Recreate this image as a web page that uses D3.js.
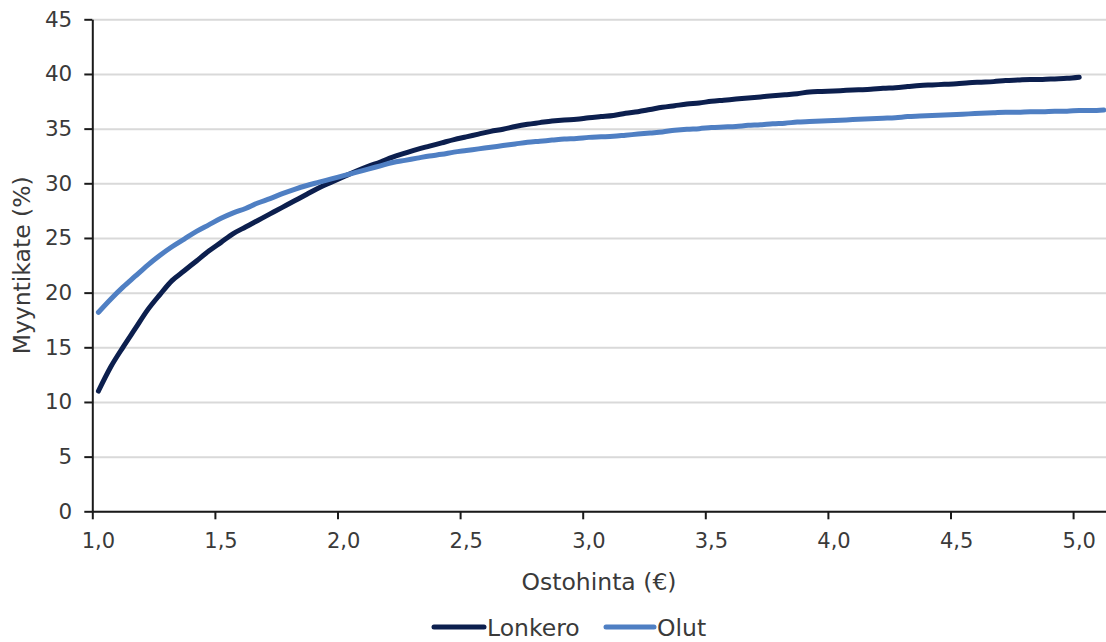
<!DOCTYPE html>
<html>
<head>
<meta charset="utf-8">
<script src="https://cdn.jsdelivr.net/npm/d3@7"></script>
<style>
  html, body { margin: 0; padding: 0; background: #ffffff; }
  svg { display: block; }
  text { font-family: "Century Gothic", "DejaVu Sans", sans-serif; fill: #3a3a3a; }
</style>
</head>
<body>
<svg id="chart" width="1106" height="642"></svg>
<script>
// ---- Data ----
const categories = [
  1.00, 1.05, 1.10, 1.15, 1.20, 1.25, 1.30, 1.35, 1.40, 1.45,
  1.50, 1.55, 1.60, 1.65, 1.70, 1.75, 1.80, 1.85, 1.90, 1.95,
  2.00, 2.05, 2.10, 2.15, 2.20, 2.25, 2.30, 2.35, 2.40, 2.45,
  2.50, 2.55, 2.60, 2.65, 2.70, 2.75, 2.80, 2.85, 2.90, 2.95,
  3.00, 3.05, 3.10, 3.15, 3.20, 3.25, 3.30, 3.35, 3.40, 3.45,
  3.50, 3.55, 3.60, 3.65, 3.70, 3.75, 3.80, 3.85, 3.90, 3.95,
  4.00, 4.05, 4.10, 4.15, 4.20, 4.25, 4.30, 4.35, 4.40, 4.45,
  4.50, 4.55, 4.60, 4.65, 4.70, 4.75, 4.80, 4.85, 4.90, 4.95,
  5.00, 5.05, 5.10
];
const lonkero = [
  11.0, 13.2, 15.0, 16.7, 18.4, 19.8, 21.1, 22.0, 22.9, 23.8,
  24.6, 25.4, 26.0, 26.6, 27.2, 27.8, 28.4, 29.0, 29.6, 30.1,
  30.6, 31.1, 31.55, 31.95, 32.4, 32.75, 33.1, 33.4, 33.7, 34.0,
  34.25, 34.5, 34.75, 34.95, 35.2, 35.4, 35.55, 35.7, 35.8, 35.85,
  36.0, 36.1, 36.2, 36.4, 36.55, 36.75, 36.95, 37.1, 37.25, 37.35,
  37.5, 37.6, 37.7, 37.8, 37.9, 38.0, 38.1, 38.2, 38.35, 38.4,
  38.45, 38.5, 38.55, 38.6, 38.7, 38.75, 38.85, 38.95, 39.0, 39.05,
  39.1, 39.2, 39.25, 39.3, 39.4, 39.45, 39.5, 39.5, 39.55, 39.6,
  39.7, null, null
];
const olut = [
  18.2, 19.4, 20.5, 21.5, 22.5, 23.4, 24.2, 24.9, 25.6, 26.2,
  26.8, 27.3, 27.7, 28.2, 28.6, 29.05, 29.45, 29.8, 30.1, 30.4,
  30.7, 31.0, 31.3, 31.6, 31.9, 32.1, 32.3, 32.5, 32.65, 32.85,
  33.0, 33.15, 33.3, 33.45, 33.6, 33.75, 33.85, 33.95, 34.05, 34.1,
  34.2, 34.25, 34.3, 34.4, 34.5, 34.6, 34.7, 34.85, 34.95, 35.0,
  35.1, 35.15, 35.2, 35.3, 35.35, 35.45, 35.5, 35.6, 35.65, 35.7,
  35.75, 35.8, 35.85, 35.9, 35.95, 36.0, 36.1, 36.15, 36.2, 36.25,
  36.3, 36.35, 36.4, 36.45, 36.5, 36.5, 36.55, 36.55, 36.6, 36.6,
  36.65, 36.65, 36.7
];
const seriesNames = ["Lonkero", "Olut"];
const seriesColors = ["#0c1f4e", "#4f7fc3"];
const yTicks = [0, 5, 10, 15, 20, 25, 30, 35, 40, 45];
const xTickLabels = [1.0, 1.5, 2.0, 2.5, 3.0, 3.5, 4.0, 4.5, 5.0];
const yTitle = "Myyntikate (%)";
const xTitle = "Ostohinta (€)";

// ---- Layout ----
const svg = d3.select("#chart");
const plotLeft = 92.3, plotTop = 19.3, plotBottom = 511.3;
const bandW = 12.26;
const plotRight = plotLeft + categories.length * bandW;
const fontStack = "\"Century Gothic\", \"DejaVu Sans\", sans-serif";

const x = d3.scaleBand().domain(categories).range([plotLeft, plotRight]).paddingInner(0).paddingOuter(0);
const xIdx = d3.scaleLinear().domain([0, categories.length]).range([plotLeft, plotRight]);
const y = d3.scaleLinear().domain([0, 45]).range([plotBottom, plotTop]);

const fi = d3.formatLocale({decimal: ",", thousands: " ", grouping: [3], currency: ["", "€"]});
const fmt1 = fi.format(".1f");

// Gridlines
const grid = svg.append("g")
  .attr("transform", `translate(${plotLeft},0)`)
  .call(d3.axisLeft(y).tickValues(yTicks).tickSize(-(plotRight - plotLeft)).tickFormat(""));
grid.select(".domain").remove();
grid.selectAll(".tick line").attr("stroke", "#d9d9d9").attr("stroke-width", 2);

// Lines
const series = [lonkero, olut];
series.forEach((vals, si) => {
  const pts = categories.map((c, i) => ({c, v: vals[i]})).filter(d => d.v !== null);
  const line = d3.line()
    .x(d => x(d.c) + x.bandwidth() / 2)
    .y(d => y(d.v))
    .curve(d3.curveMonotoneX);
  svg.append("path")
    .datum(pts)
    .attr("d", line)
    .attr("fill", "none")
    .attr("stroke", seriesColors[si])
    .attr("stroke-width", 5)
    .attr("stroke-linecap", "round")
    .attr("stroke-linejoin", "round");
});

// Y axis
const yAx = svg.append("g")
  .attr("transform", `translate(${plotLeft},0)`)
  .call(d3.axisLeft(y).tickValues(yTicks).tickSize(8).tickPadding(12).tickSizeOuter(0));
yAx.select(".domain").attr("stroke", "#1a1a1a").attr("stroke-width", 2);
yAx.selectAll(".tick line").attr("stroke", "#1a1a1a").attr("stroke-width", 2);
yAx.selectAll(".tick text").style("font-size", "21.5px").style("font-family", fontStack).attr("fill", "#3a3a3a");

// X axis: tick marks at category boundaries
const labelIdx = xTickLabels.map(v => categories.findIndex(c => Math.abs(c - v) < 1e-9));
const xTicksAx = svg.append("g")
  .attr("transform", `translate(0,${plotBottom})`)
  .call(d3.axisBottom(xIdx).tickValues(labelIdx).tickSize(8).tickFormat("").tickSizeOuter(0));
xTicksAx.select(".domain").attr("stroke", "#1a1a1a").attr("stroke-width", 2);
xTicksAx.selectAll(".tick line").attr("stroke", "#1a1a1a").attr("stroke-width", 2);

// X axis labels centered on categories
const xLab = svg.append("g")
  .attr("transform", `translate(0,${plotBottom})`)
  .call(d3.axisBottom(x).tickValues(labelIdx.map(i => categories[i])).tickSize(0).tickPadding(22).tickFormat(d => fmt1(d)));
xLab.select(".domain").remove();
xLab.selectAll(".tick text").style("font-size", "21px").style("font-family", fontStack).attr("fill", "#3a3a3a");

// Axis titles
svg.append("text")
  .attr("transform", `translate(30,${(plotTop + plotBottom) / 2}) rotate(-90)`)
  .attr("text-anchor", "middle")
  .style("font-size", "23.5px")
  .text(yTitle);
svg.append("text")
  .attr("x", 599).attr("y", 590)
  .attr("text-anchor", "middle")
  .style("font-size", "23.5px")
  .text(xTitle);

// Legend
const legendItems = [
  {name: seriesNames[0], color: seriesColors[0], x0: 434, x1: 484},
  {name: seriesNames[1], color: seriesColors[1], x0: 606, x1: 654}
];
const lg = svg.append("g");
legendItems.forEach(it => {
  lg.append("line")
    .attr("x1", it.x0).attr("x2", it.x1)
    .attr("y1", 627).attr("y2", 627)
    .attr("stroke", it.color).attr("stroke-width", 5).attr("stroke-linecap", "round");
  lg.append("text")
    .attr("x", it.x1 + 3).attr("y", 636)
    .style("font-size", "23.5px")
    .text(it.name);
});
</script>
</body>
</html>
